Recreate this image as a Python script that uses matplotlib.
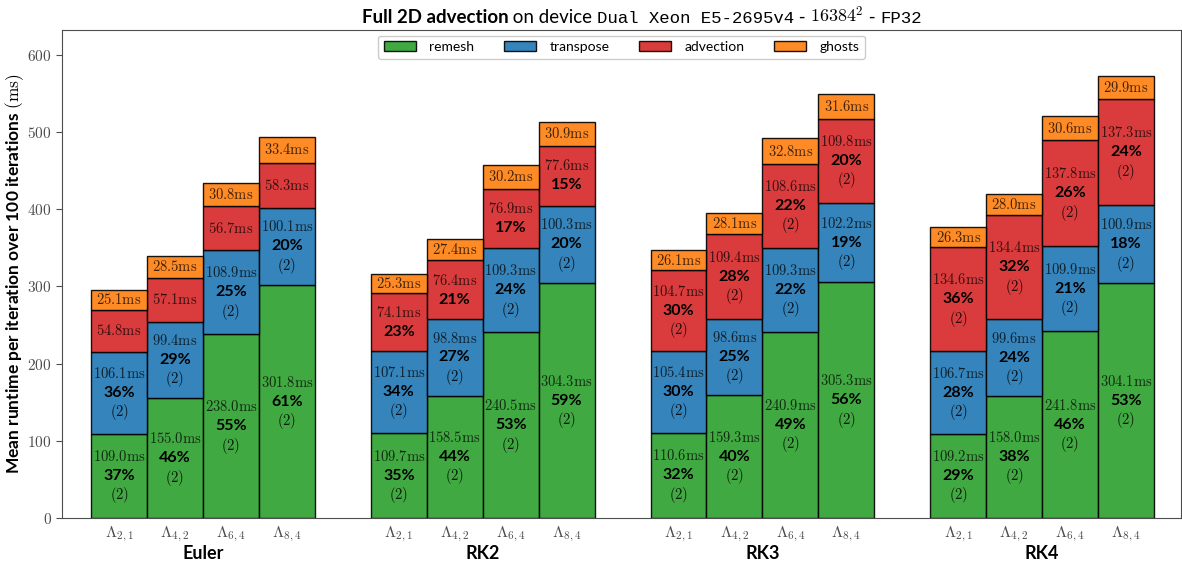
import matplotlib
matplotlib.use("Agg")
import matplotlib.pyplot as plt
import matplotlib.transforms as mtransforms
import numpy as np

plt.rcParams["mathtext.fontset"] = "cm"
plt.rcParams["font.family"] = "Lato"

schemes = ["Euler", "RK2", "RK3", "RK4"]
kernels = [r"$\Lambda_{2,1}$", r"$\Lambda_{4,2}$", r"$\Lambda_{6,4}$", r"$\Lambda_{8,4}$"]
steps = ["remesh", "transpose", "advection", "ghosts"]
colors = ["tab:green", "tab:blue", "tab:red", "tab:orange"]

# mean time per step (ms), one row per time integrator, one column per kernel
remesh = [
    [109.0, 155.0, 238.0, 301.8],
    [109.7, 158.5, 240.5, 304.3],
    [110.6, 159.3, 240.9, 305.3],
    [109.2, 158.0, 241.8, 304.1],
]
transpose = [
    [106.1, 99.4, 108.9, 100.1],
    [107.1, 98.8, 109.3, 100.3],
    [105.4, 98.6, 109.3, 102.2],
    [106.7, 99.6, 109.9, 100.9],
]
advection = [
    [54.8, 57.1, 56.7, 58.3],
    [74.1, 76.4, 76.9, 77.6],
    [104.7, 109.4, 108.6, 109.8],
    [134.6, 134.4, 137.8, 137.3],
]
ghosts = [
    [25.1, 28.5, 30.8, 33.4],
    [25.3, 27.4, 30.2, 30.9],
    [26.1, 28.1, 32.8, 31.6],
    [26.3, 28.0, 30.6, 29.9],
]
# number of calls per iteration
ncalls = [2, 2, 2, 2]

data = np.array([remesh, transpose, advection, ghosts])  # step, scheme, kernel

fig = plt.figure(figsize=(11.82, 5.67), dpi=100)
ax = fig.add_axes([0.0525, 0.0864, 0.9465, 0.8606])

for s, scheme in enumerate(schemes):
    xs = s * 5 + np.arange(len(kernels))
    totals = data[:, s, :].sum(axis=0)
    bottom = np.zeros(len(kernels))
    for k, step in enumerate(steps):
        vals = data[k, s, :]
        ax.bar(xs, vals, width=1.0, bottom=bottom, color=colors[k], alpha=0.9,
               edgecolor="black", linewidth=1.0, label=step if s == 0 else None)
        for x, v, b, t in zip(xs, vals, bottom, totals):
            yc = b + v / 2
            ms = r"$%.1f\mathrm{ms}$" % v
            pct = "%d%%" % round(100 * v / t)
            if v >= 95:
                ax.annotate(ms, (x, yc), xytext=(0, 14), textcoords="offset points",
                            ha="center", va="center", fontsize=10.5, alpha=0.75)
                ax.annotate(pct, (x, yc), xytext=(0, 0), textcoords="offset points",
                            ha="center", va="center", fontsize=11.5, fontweight="bold")
                ax.annotate(r"$(%d)$" % ncalls[k], (x, yc), xytext=(0, -14),
                            textcoords="offset points", ha="center", va="center",
                            fontsize=10.5, alpha=0.85)
            elif v >= 65:
                ax.annotate(ms, (x, yc), xytext=(0, 7), textcoords="offset points",
                            ha="center", va="center", fontsize=10.5, alpha=0.75)
                ax.annotate(pct, (x, yc), xytext=(0, -7), textcoords="offset points",
                            ha="center", va="center", fontsize=11.5, fontweight="bold")
            else:
                ax.annotate(ms, (x, yc), ha="center", va="center",
                            fontsize=10.5, alpha=0.75)
        bottom = bottom + vals

ticks = [s * 5 + k for s in range(len(schemes)) for k in range(len(kernels))]
ax.set_xticks(ticks)
ax.set_xticklabels(kernels * len(schemes), fontsize=11.5, color="0.3")
ax.tick_params(axis="x", length=0, pad=5)

group_tr = mtransforms.blended_transform_factory(ax.transData, ax.transAxes)
for s, scheme in enumerate(schemes):
    ax.text(s * 5 + 1.5, -0.072, scheme, transform=group_tr, ha="center",
            va="center", fontsize=13, fontweight="bold")

ax.set_xlim(-1.02, 18.98)
ax.set_ylim(0, 632)
ax.set_yticks(range(0, 700, 100))
ax.set_yticklabels([r"$%d$" % v for v in range(0, 700, 100)], fontsize=11, color="0.3")
ax.tick_params(axis="y", length=4, color="0.3")
for sp in ax.spines.values():
    sp.set_color("0.3")
ax.set_ylabel(r"Mean runtime per iteration over 100 iterations $(\mathrm{ms})$",
              fontsize=12.5, fontweight="bold")
ax.yaxis.set_label_coords(-0.032, 0.5)

ax.legend(loc="upper center", ncol=4, fontsize=10, handlelength=2.3,
          columnspacing=2.1, handletextpad=1.0, borderaxespad=0.4,
          framealpha=1.0, edgecolor="0.8")

# title built from pieces with different fonts, laid out along one baseline
pieces = [
    ("Full 2D advection", dict(fontweight="bold", fontsize=13.5)),
    (" on device ", dict(fontsize=13.5)),
    ("Dual Xeon E5-2695v4", dict(family="Liberation Mono", fontsize=12.5)),
    (" - ", dict(fontsize=13.5)),
    (r"$16384^2$", dict(fontsize=13)),
    (" - ", dict(fontsize=13.5)),
    ("FP32", dict(family="Liberation Mono", fontsize=12.5)),
]
renderer = fig.canvas.get_renderer()
texts = []
widths = []
for txt, kw in pieces:
    t = fig.text(0, 0.96, txt, va="baseline", ha="left", **kw)
    texts.append(t)
    widths.append(t.get_window_extent(renderer).width / fig.bbox.width)
x0 = 0.543 - sum(widths) / 2
for t, w in zip(texts, widths):
    t.set_x(x0)
    x0 += w

fig.savefig("out.png", dpi=100)
